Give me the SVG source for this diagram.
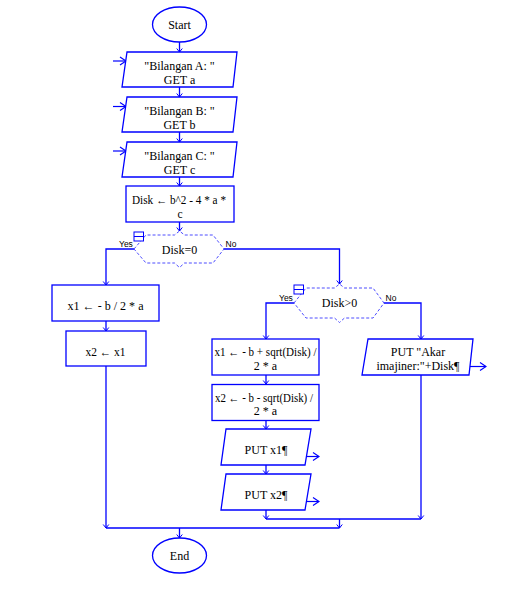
<svg xmlns="http://www.w3.org/2000/svg" width="529" height="606" viewBox="0 0 529 606">
<style>
.sh{fill:#fff;stroke:#0000ff;stroke-width:1.3}
.dec{fill:#fff;stroke:#4d4dff;stroke-width:1;stroke-dasharray:3,2}
.t{font-family:"Liberation Serif","Times New Roman",serif;font-size:12px;fill:#000;text-anchor:middle}
.lb{font-family:"Liberation Sans",Arial,sans-serif;font-size:8.5px;fill:#000}
.c{fill:none;stroke:#0000ff;stroke-width:1.3}
.io{fill:none;stroke:#0000ff;stroke-width:1.2}
</style>
<defs>
<marker id="ah" viewBox="-5 -4 6 8" markerWidth="6" markerHeight="8" refX="0" refY="0" orient="auto" markerUnits="userSpaceOnUse">
<path d="M-3.5,-2.8 L0,0 L-3.5,2.8" fill="none" stroke="#0000ff" stroke-width="1"/>
</marker>
<marker id="ioh" viewBox="-8 -5 9 10" markerWidth="9" markerHeight="10" refX="0" refY="0" orient="auto" markerUnits="userSpaceOnUse">
<path d="M-6,-4 L0,0 L-6,4" fill="none" stroke="#0000ff" stroke-width="1.2"/>
</marker>
</defs>
<rect width="529" height="606" fill="#fff"/>
<g id="connectors">
<line class="c" x1="179.5" y1="42" x2="179.5" y2="52" marker-end="url(#ah)"/>
<line class="c" x1="179.5" y1="87" x2="179.5" y2="97" marker-end="url(#ah)"/>
<line class="c" x1="179.5" y1="132" x2="179.5" y2="142" marker-end="url(#ah)"/>
<line class="c" x1="179.5" y1="177" x2="179.5" y2="186" marker-end="url(#ah)"/>
<line class="c" x1="179.5" y1="222" x2="179.5" y2="231" marker-end="url(#ah)"/>
<polyline class="c" points="134,249 106,249 106,285" marker-end="url(#ah)"/>
<line class="c" x1="106" y1="321" x2="106" y2="331" marker-end="url(#ah)"/>
<line class="c" x1="106" y1="366" x2="106" y2="528" marker-end="url(#ah)"/>
<polyline class="c" points="224,249 339.5,249 339.5,284" marker-end="url(#ah)"/>
<polyline class="c" points="294,303 266,303 266,339" marker-end="url(#ah)"/>
<polyline class="c" points="384,303 421,303 421,339" marker-end="url(#ah)"/>
<line class="c" x1="266" y1="375" x2="266" y2="384" marker-end="url(#ah)"/>
<line class="c" x1="266" y1="421" x2="266" y2="429" marker-end="url(#ah)"/>
<line class="c" x1="266" y1="465" x2="266" y2="474" marker-end="url(#ah)"/>
<line class="c" x1="266" y1="510" x2="266" y2="519" marker-end="url(#ah)"/>
<line class="c" x1="421" y1="375" x2="421" y2="519" marker-end="url(#ah)"/>
<line class="c" x1="266" y1="519" x2="421" y2="519"/>
<line class="c" x1="339.5" y1="519" x2="339.5" y2="528" marker-end="url(#ah)"/>
<line class="c" x1="106" y1="528" x2="339.5" y2="528"/>
<line class="c" x1="179.5" y1="528" x2="179.5" y2="538" marker-end="url(#ah)"/>
<line class="io" x1="113" y1="61" x2="126" y2="61" marker-end="url(#ioh)"/>
<line class="io" x1="113" y1="106.5" x2="126" y2="106.5" marker-end="url(#ioh)"/>
<line class="io" x1="113" y1="151" x2="126" y2="151" marker-end="url(#ioh)"/>
<line class="io" x1="469" y1="366.5" x2="486" y2="366.5" marker-end="url(#ioh)"/>
<line class="io" x1="306" y1="456.5" x2="319" y2="456.5" marker-end="url(#ioh)"/>
<line class="io" x1="306" y1="501.5" x2="319" y2="501.5" marker-end="url(#ioh)"/>
</g>
<g id="start">
<ellipse class="sh" cx="179.5" cy="24.5" rx="27" ry="17.5"/>
<text class="t" x="179.5" y="29">Start</text>
</g>
<g id="getA">
<polygon class="sh" points="127,52 237,52 233,87 122,87"/>
<text class="t" x="179.5" y="70">"Bilangan A: "</text>
<text class="t" x="179.5" y="84">GET a</text>
</g>
<g id="getB">
<polygon class="sh" points="127,97 237,97 233,132 122,132"/>
<text class="t" x="179.5" y="115">"Bilangan B: "</text>
<text class="t" x="179.5" y="129">GET b</text>
</g>
<g id="getC">
<polygon class="sh" points="127,142 237,142 233,177 122,177"/>
<text class="t" x="179.5" y="160">"Bilangan C: "</text>
<text class="t" x="179.5" y="174">GET c</text>
</g>
<g id="disk">
<rect class="sh" x="126" y="186" width="108" height="36"/>
<text class="t" x="179" y="203.5" style="font-size:11.5px" textLength="94" lengthAdjust="spacingAndGlyphs">Disk ← b^2 - 4 * a *</text>
<text class="t" x="180" y="217.5" style="font-size:11.5px">c</text>
</g>
<g id="dec1">
<polygon class="dec" points="134,249 146,235 174.5,235 179.5,231 184.5,235 213,235 224,249 213,263 184.5,263 179.5,267.5 174.5,263 146,263"/>
<rect x="134" y="232" width="9.5" height="9" fill="#fff" stroke="#0000ff" stroke-width="1"/>
<line x1="134" y1="236.5" x2="143.5" y2="236.5" stroke="#0000ff" stroke-width="1"/>
<text class="t" x="179.5" y="253.5">Disk=0</text>
<text class="lb" x="119" y="246.5">Yes</text>
<text class="lb" x="225.5" y="246.5">No</text>
</g>
<g id="x1a">
<rect class="sh" x="52" y="285" width="107" height="36"/>
<text class="t" x="105.5" y="310" textLength="76" lengthAdjust="spacingAndGlyphs">x1 ← - b / 2 * a</text>
</g>
<g id="x2a">
<rect class="sh" x="66" y="331" width="80" height="35"/>
<text class="t" x="105.5" y="355.5" textLength="40" lengthAdjust="spacingAndGlyphs">x2 ← x1</text>
</g>
<g id="dec2">
<polygon class="dec" points="294,303 306,288 334.5,288 339.5,284 344.5,288 373,288 384,303 373,318 344.5,318 339.5,322.5 334.5,318 306,318"/>
<rect x="294" y="285" width="9.5" height="9" fill="#fff" stroke="#0000ff" stroke-width="1"/>
<line x1="294" y1="289.5" x2="303.5" y2="289.5" stroke="#0000ff" stroke-width="1"/>
<text class="t" x="339.5" y="307">Disk&gt;0</text>
<text class="lb" x="279" y="300.5">Yes</text>
<text class="lb" x="385.5" y="300.5">No</text>
</g>
<g id="x1b">
<rect class="sh" x="212" y="339" width="107" height="36"/>
<text class="t" x="265.5" y="355.5" textLength="102" lengthAdjust="spacingAndGlyphs">x1 ← - b + sqrt(Disk) /</text>
<text class="t" x="265.5" y="369.5">2 * a</text>
</g>
<g id="x2b">
<rect class="sh" x="212" y="384.5" width="107" height="36"/>
<text class="t" x="264" y="402" textLength="98" lengthAdjust="spacingAndGlyphs">x2 ← - b - sqrt(Disk) /</text>
<text class="t" x="265.5" y="414.5">2 * a</text>
</g>
<g id="putx1">
<polygon class="sh" points="226,429 311,429 305,465 221,465"/>
<text class="t" x="266" y="454">PUT x1¶</text>
</g>
<g id="putx2">
<polygon class="sh" points="226,474 311,474 305,510 221,510"/>
<text class="t" x="266" y="499">PUT x2¶</text>
</g>
<g id="putakar">
<polygon class="sh" points="368,339 473,339 469,375 362,375"/>
<text class="t" x="418" y="355.5">PUT "Akar</text>
<text class="t" x="418" y="369.5">imajiner:"+Disk¶</text>
</g>
<g id="end">
<ellipse class="sh" cx="179.5" cy="555.5" rx="27" ry="17.5"/>
<text class="t" x="179.5" y="560">End</text>
</g>
</svg>
